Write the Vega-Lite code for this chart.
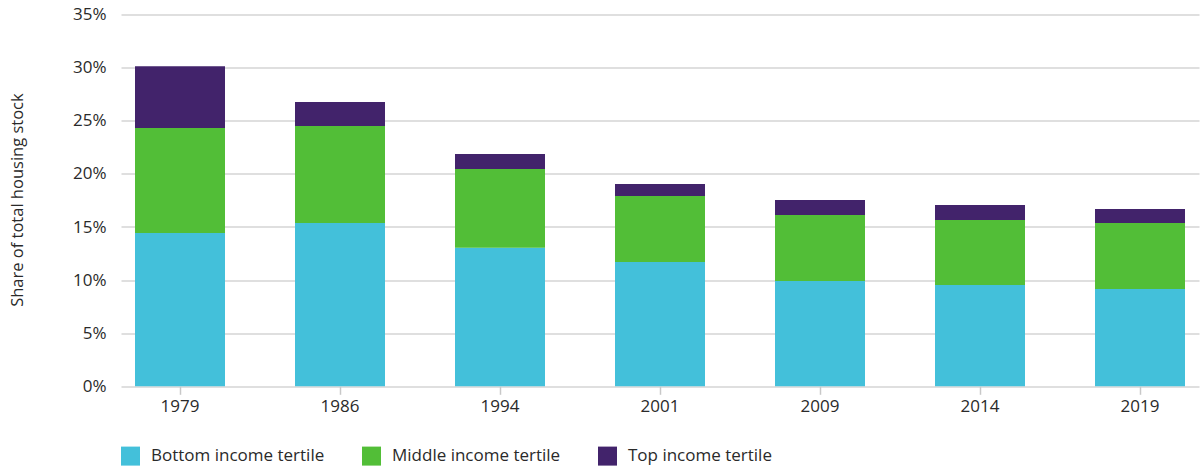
{
  "$schema": "https://vega.github.io/schema/vega-lite/v6.json",
  "width": 1078,
  "height": 371.7,
  "autosize": "none",
  "padding": {"left": 121, "top": 14.6, "right": 4, "bottom": 81.7},
  "background": "white",
  "config": {
    "font": "Open Sans",
    "view": {"stroke": null},
    "axis": {"labelFont": "Open Sans", "titleFont": "Open Sans", "labelColor": "#2a2a2a", "titleColor": "#2a2a2a"},
    "legend": {"labelFont": "Open Sans"}
  },
  "data": {
    "values": [
      {"year": "1979", "group": "Bottom income tertile", "order": 1, "value": 14.43},
      {"year": "1979", "group": "Middle income tertile", "order": 2, "value": 9.89},
      {"year": "1979", "group": "Top income tertile", "order": 3, "value": 5.81},
      {"year": "1986", "group": "Bottom income tertile", "order": 1, "value": 15.38},
      {"year": "1986", "group": "Middle income tertile", "order": 2, "value": 9.13},
      {"year": "1986", "group": "Top income tertile", "order": 3, "value": 2.26},
      {"year": "1994", "group": "Bottom income tertile", "order": 1, "value": 13.05},
      {"year": "1994", "group": "Middle income tertile", "order": 2, "value": 7.41},
      {"year": "1994", "group": "Top income tertile", "order": 3, "value": 1.41},
      {"year": "2001", "group": "Bottom income tertile", "order": 1, "value": 11.70},
      {"year": "2001", "group": "Middle income tertile", "order": 2, "value": 6.22},
      {"year": "2001", "group": "Top income tertile", "order": 3, "value": 1.13},
      {"year": "2009", "group": "Bottom income tertile", "order": 1, "value": 9.92},
      {"year": "2009", "group": "Middle income tertile", "order": 2, "value": 6.21},
      {"year": "2009", "group": "Top income tertile", "order": 3, "value": 1.41},
      {"year": "2014", "group": "Bottom income tertile", "order": 1, "value": 9.54},
      {"year": "2014", "group": "Middle income tertile", "order": 2, "value": 6.12},
      {"year": "2014", "group": "Top income tertile", "order": 3, "value": 1.41},
      {"year": "2019", "group": "Bottom income tertile", "order": 1, "value": 9.16},
      {"year": "2019", "group": "Middle income tertile", "order": 2, "value": 6.22},
      {"year": "2019", "group": "Top income tertile", "order": 3, "value": 1.32}
    ]
  },
  "mark": {"type": "bar"},
  "encoding": {
    "x": {
      "field": "year",
      "type": "ordinal",
      "scale": {"paddingInner": 0.4375, "paddingOuter": 0.0875},
      "axis": {
        "title": null,
        "labelAngle": 0,
        "labelFontSize": 17,
        "labelPadding": 4,
        "domain": false,
        "ticks": true,
        "tickColor": "#c8c8c8",
        "tickSize": 8,
        "tickWidth": 1.5,
        "grid": false
      }
    },
    "y": {
      "field": "value",
      "type": "quantitative",
      "stack": "zero",
      "scale": {"domain": [0, 35], "nice": false},
      "axis": {
        "title": "Share of total housing stock",
        "titleFontSize": 16.5,
        "titleFontWeight": "normal",
        "titleAngle": -90,
        "titleX": -104,
        "titleY": 185,
        "titleAlign": "center",
        "titleBaseline": "middle",
        "values": [0, 5, 10, 15, 20, 25, 30, 35],
        "labelExpr": "datum.value + '%'",
        "labelFontSize": 17,
        "labelPadding": 15,
        "domain": false,
        "ticks": false,
        "grid": true,
        "gridColor": "#d4d4d4",
        "gridWidth": 1.5
      }
    },
    "color": {
      "field": "group",
      "type": "nominal",
      "scale": {
        "domain": ["Bottom income tertile", "Middle income tertile", "Top income tertile"],
        "range": ["#43C0DA", "#52BE37", "#42236B"]
      },
      "legend": {
        "title": null,
        "orient": "none",
        "direction": "horizontal",
        "legendX": 0,
        "legendY": 432,
        "symbolType": "square",
        "symbolSize": 361,
        "symbolStrokeWidth": 0,
        "symbolOpacity": 1,
        "labelFontSize": 17,
        "labelLimit": 400,
        "labelColor": "#2a2a2a",
        "labelOffset": 11,
        "columnPadding": 37
      }
    },
    "order": {"field": "order", "type": "quantitative"}
  }
}
